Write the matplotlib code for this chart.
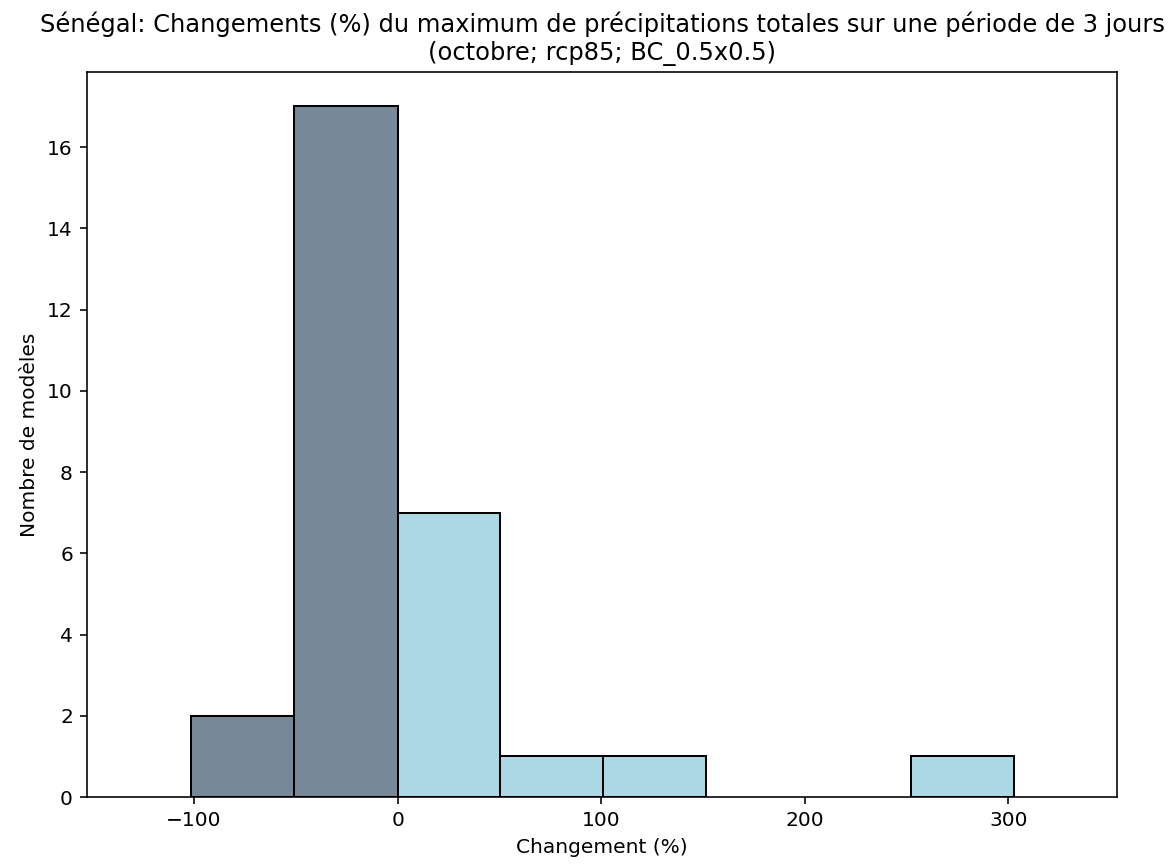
import matplotlib
matplotlib.use("Agg")
import matplotlib.pyplot as plt

# bin edges (% change) and number of models per bin
bin_edges = [-101.5, -51.0, 0.0, 50.5, 101.0, 151.3, 201.8, 252.3, 302.8]
counts = [2, 17, 7, 1, 1, 0, 0, 1]

neg_color = "#778899"   # lightslategray for decreases
pos_color = "#ADD8E6"   # lightblue for increases

title = ("Sénégal: Changements (%) du maximum de précipitations totales sur une période de 3 jours\n"
         "(octobre; rcp85; BC_0.5x0.5)")

fig = plt.figure(figsize=(1169 / 145, 865 / 145), dpi=145)
ax = fig.add_axes([0.0744, 0.0786, 0.8811, 0.8382])

for left, right, n in zip(bin_edges[:-1], bin_edges[1:], counts):
    if n == 0:
        continue
    color = neg_color if right <= 0 else pos_color
    ax.bar(left, n, width=right - left, align="edge",
           color=color, edgecolor="black", linewidth=1.0)

ax.set_xlim(-152.6, 353.3)
ax.set_ylim(0, 17.85)
ax.set_xticks([-100, 0, 100, 200, 300])
ax.set_yticks(range(0, 17, 2))

ax.set_xlabel("Changement (%)")
ax.set_ylabel("Nombre de modèles")
ax.set_title(title)

fig.savefig("out.png", dpi=145)
plt.close(fig)
